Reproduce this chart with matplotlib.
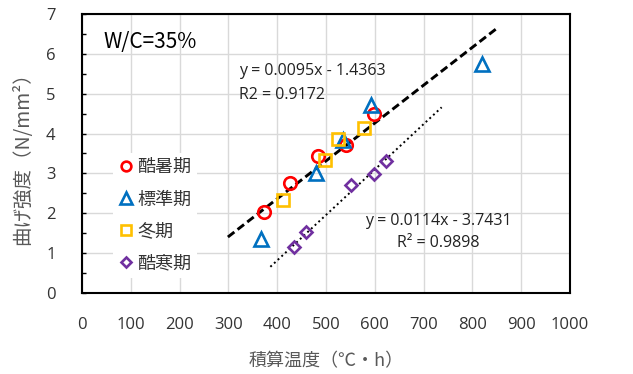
import matplotlib
matplotlib.use("Agg")
import matplotlib.pyplot as plt
import numpy as np
from matplotlib.lines import Line2D
from matplotlib.ticker import MultipleLocator

plt.rcParams["font.family"] = ["Noto Sans CJK JP", "DejaVu Sans"]
LATIN = ["Open Sans", "Noto Sans CJK JP", "DejaVu Sans"]

# 積算温度 (℃・h) and 曲げ強度 (N/mm2) for each curing period
hot_x = [372, 427, 484, 541, 598]
hot_y = [2.02, 2.75, 3.44, 3.72, 4.49]
std_x = [367, 479, 534, 593, 820]
std_y = [1.35, 3.02, 3.84, 4.72, 5.75]
winter_x = [412, 497, 525, 578]
winter_y = [2.33, 3.34, 3.86, 4.13]
cold_x = [435, 459, 551, 598, 623]
cold_y = [1.16, 1.53, 2.72, 2.99, 3.32]

# trend lines: slope, intercept, x range
fit1 = [0.0095, -1.4363]
fit1_range = [299, 850]
fit2 = [0.0114, -3.7431]
fit2_range = [386, 737]

# name, x, y, marker, colour, size in plot, size in legend
series = [
    ("酷暑期", hot_x, hot_y, "o", "#FF0000", 9, 7),
    ("標準期", std_x, std_y, "^", "#0070C0", 10.5, 8),
    ("冬期", winter_x, winter_y, "s", "#FFC000", 8.5, 6.5),
    ("酷寒期", cold_x, cold_y, "D", "#7030A0", 6.5, 5.5),
]

fig = plt.figure(figsize=(6.33, 3.74), dpi=100)
ax = fig.add_axes([0.1295, 0.2166, 0.771, 0.746])

# trend lines
xs = np.array(fit1_range)
ax.plot(xs, fit1[0] * xs + fit1[1], color="black", ls=(0, (2.8, 1.4)), lw=2.1, zorder=3)
xs = np.array(fit2_range)
ax.plot(xs, fit2[0] * xs + fit2[1], color="black", ls=(0, (1, 1.6)), lw=1.4, zorder=3)

for name, x, y, m, c, ms, lms in series:
    ax.plot(x, y, ls="none", marker=m, ms=ms, mfc="none", mec=c, mew=1.9, zorder=4)

ax.set_xlim(0, 1000)
ax.set_ylim(0, 7)
ax.xaxis.set_major_locator(MultipleLocator(100))
ax.yaxis.set_major_locator(MultipleLocator(1))
ax.yaxis.set_minor_locator(MultipleLocator(0.5))
ax.grid(True, color="#d9d9d9", lw=1)
ax.set_axisbelow(True)
ax.tick_params(axis="x", length=0, pad=17, labelsize=12, labelcolor="#333333")
ax.tick_params(axis="y", which="both", direction="in", length=3, width=1,
               pad=19, labelsize=12, labelcolor="#333333")
for lbl in ax.get_xticklabels() + ax.get_yticklabels():
    lbl.set_family(LATIN)
for sp in ax.spines.values():
    sp.set_linewidth(1.5)
    sp.set_color("black")

ax.set_xlabel("積算温度（℃・h）", fontsize=13, color="#595959", labelpad=14)
ax.set_ylabel("曲げ強度（N/mm²）", fontsize=14, color="#595959", labelpad=9)

ax.text(0.045, 0.9, "W/C=35%", transform=ax.transAxes, fontsize=15, va="center")
ax.text(0.322, 0.796, "y = 0.0095x - 1.4363", transform=ax.transAxes,
        fontsize=11.5, va="center", color="#222222", family=LATIN)
ax.text(0.322, 0.71, "R2 = 0.9172", transform=ax.transAxes,
        fontsize=11.5, va="center", color="#222222", family=LATIN)
ax.text(0.73, 0.219, "y = 0.0114x - 3.7431\nR² = 0.9898", transform=ax.transAxes,
        fontsize=11.5, va="center", ha="center", ma="center", color="#222222",
        linespacing=1.5, family=LATIN)

handles = [Line2D([], [], ls="none", marker=m, ms=lms, mfc="none", mec=c, mew=1.9)
           for name, x, y, m, c, ms, lms in series]
leg = ax.legend(handles, [s[0] for s in series], loc="upper left",
                bbox_to_anchor=(0.0635, 0.502), frameon=True, fontsize=13,
                handlelength=0.8, handletextpad=0.25, labelspacing=0.78,
                borderpad=0.3, borderaxespad=0, fancybox=False)
leg.get_frame().set_edgecolor("none")
leg.get_frame().set_facecolor("white")
leg.get_frame().set_alpha(1)
for t in leg.get_texts():
    t.set_color("#333333")

fig.savefig("out.png", dpi=100)
